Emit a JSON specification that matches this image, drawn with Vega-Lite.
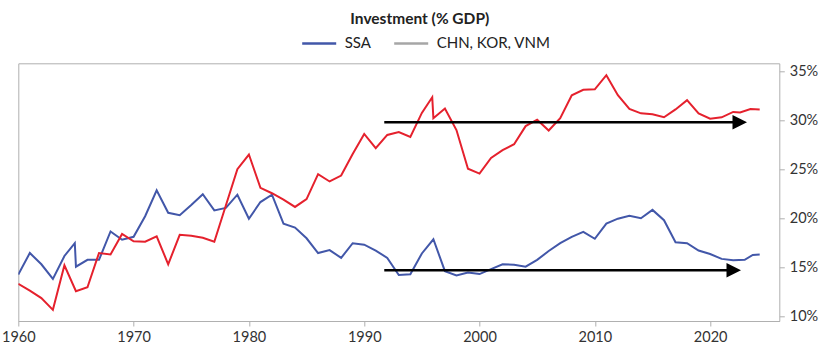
{
  "$schema": "https://vega.github.io/schema/vega-lite/v6.json",
  "autosize": "none",
  "width": 761,
  "height": 257.7,
  "padding": {"left": 18.3, "top": 63.3, "right": 60.7, "bottom": 37},
  "background": "white",
  "config": {
    "view": {"stroke": "#b0b0b0", "strokeWidth": 1},
    "font": "Lato",
    "axis": {"grid": false, "domainColor": "#b0b0b0", "tickColor": "#b0b0b0", "labelColor": "#333333", "labelFont": "Lato", "labelFontSize": 14.5, "tickSize": 5}
  },
  "title": {"text": "Investment (% GDP)", "font": "Lato", "fontSize": 15.5, "fontWeight": "bold", "color": "#222222", "anchor": "middle", "dx": 21, "offset": -3},
  "datasets": {
    "inv": [
      {"year": 1960, "value": 14.3, "series": "SSA"},
      {"year": 1961, "value": 16.5, "series": "SSA"},
      {"year": 1962, "value": 15.35, "series": "SSA"},
      {"year": 1963, "value": 13.85, "series": "SSA"},
      {"year": 1964, "value": 16.2, "series": "SSA"},
      {"year": 1964.9, "value": 17.5, "series": "SSA"},
      {"year": 1965, "value": 15.1, "series": "SSA"},
      {"year": 1966, "value": 15.8, "series": "SSA"},
      {"year": 1967, "value": 15.8, "series": "SSA"},
      {"year": 1968, "value": 18.7, "series": "SSA"},
      {"year": 1969, "value": 17.85, "series": "SSA"},
      {"year": 1970, "value": 18.15, "series": "SSA"},
      {"year": 1971, "value": 20.25, "series": "SSA"},
      {"year": 1972, "value": 22.9, "series": "SSA"},
      {"year": 1973, "value": 20.6, "series": "SSA"},
      {"year": 1974, "value": 20.35, "series": "SSA"},
      {"year": 1975, "value": 21.4, "series": "SSA"},
      {"year": 1976, "value": 22.5, "series": "SSA"},
      {"year": 1977, "value": 20.85, "series": "SSA"},
      {"year": 1978, "value": 21.1, "series": "SSA"},
      {"year": 1979, "value": 22.45, "series": "SSA"},
      {"year": 1980, "value": 20.0, "series": "SSA"},
      {"year": 1981, "value": 21.7, "series": "SSA"},
      {"year": 1982, "value": 22.45, "series": "SSA"},
      {"year": 1983, "value": 19.5, "series": "SSA"},
      {"year": 1984, "value": 19.1, "series": "SSA"},
      {"year": 1985, "value": 18.0, "series": "SSA"},
      {"year": 1986, "value": 16.5, "series": "SSA"},
      {"year": 1987, "value": 16.8, "series": "SSA"},
      {"year": 1988, "value": 16.0, "series": "SSA"},
      {"year": 1989, "value": 17.5, "series": "SSA"},
      {"year": 1990, "value": 17.35, "series": "SSA"},
      {"year": 1991, "value": 16.75, "series": "SSA"},
      {"year": 1992, "value": 16.0, "series": "SSA"},
      {"year": 1993, "value": 14.25, "series": "SSA"},
      {"year": 1994, "value": 14.33, "series": "SSA"},
      {"year": 1995, "value": 16.45, "series": "SSA"},
      {"year": 1996, "value": 17.9, "series": "SSA"},
      {"year": 1997, "value": 14.65, "series": "SSA"},
      {"year": 1998, "value": 14.2, "series": "SSA"},
      {"year": 1999, "value": 14.5, "series": "SSA"},
      {"year": 2000, "value": 14.35, "series": "SSA"},
      {"year": 2001, "value": 14.85, "series": "SSA"},
      {"year": 2002, "value": 15.35, "series": "SSA"},
      {"year": 2003, "value": 15.3, "series": "SSA"},
      {"year": 2004, "value": 15.1, "series": "SSA"},
      {"year": 2005, "value": 15.8, "series": "SSA"},
      {"year": 2006, "value": 16.7, "series": "SSA"},
      {"year": 2007, "value": 17.5, "series": "SSA"},
      {"year": 2008, "value": 18.15, "series": "SSA"},
      {"year": 2009, "value": 18.65, "series": "SSA"},
      {"year": 2010, "value": 17.95, "series": "SSA"},
      {"year": 2011, "value": 19.5, "series": "SSA"},
      {"year": 2012, "value": 20.0, "series": "SSA"},
      {"year": 2013, "value": 20.3, "series": "SSA"},
      {"year": 2014, "value": 20.05, "series": "SSA"},
      {"year": 2015, "value": 20.9, "series": "SSA"},
      {"year": 2016, "value": 19.85, "series": "SSA"},
      {"year": 2017, "value": 17.6, "series": "SSA"},
      {"year": 2018, "value": 17.5, "series": "SSA"},
      {"year": 2019, "value": 16.75, "series": "SSA"},
      {"year": 2020, "value": 16.4, "series": "SSA"},
      {"year": 2021, "value": 15.9, "series": "SSA"},
      {"year": 2022, "value": 15.75, "series": "SSA"},
      {"year": 2023, "value": 15.8, "series": "SSA"},
      {"year": 2023.7, "value": 16.3, "series": "SSA"},
      {"year": 2024.3, "value": 16.35, "series": "SSA"},
      {"year": 1960, "value": 13.35, "series": "CHN, KOR, VNM"},
      {"year": 1961, "value": 12.65, "series": "CHN, KOR, VNM"},
      {"year": 1962, "value": 11.9, "series": "CHN, KOR, VNM"},
      {"year": 1963, "value": 10.7, "series": "CHN, KOR, VNM"},
      {"year": 1964, "value": 15.25, "series": "CHN, KOR, VNM"},
      {"year": 1965, "value": 12.6, "series": "CHN, KOR, VNM"},
      {"year": 1966, "value": 13.0, "series": "CHN, KOR, VNM"},
      {"year": 1967, "value": 16.5, "series": "CHN, KOR, VNM"},
      {"year": 1968, "value": 16.35, "series": "CHN, KOR, VNM"},
      {"year": 1969, "value": 18.45, "series": "CHN, KOR, VNM"},
      {"year": 1970, "value": 17.7, "series": "CHN, KOR, VNM"},
      {"year": 1971, "value": 17.65, "series": "CHN, KOR, VNM"},
      {"year": 1972, "value": 18.2, "series": "CHN, KOR, VNM"},
      {"year": 1973, "value": 15.35, "series": "CHN, KOR, VNM"},
      {"year": 1974, "value": 18.35, "series": "CHN, KOR, VNM"},
      {"year": 1975, "value": 18.25, "series": "CHN, KOR, VNM"},
      {"year": 1976, "value": 18.05, "series": "CHN, KOR, VNM"},
      {"year": 1977, "value": 17.65, "series": "CHN, KOR, VNM"},
      {"year": 1978, "value": 21.35, "series": "CHN, KOR, VNM"},
      {"year": 1979, "value": 25.05, "series": "CHN, KOR, VNM"},
      {"year": 1980, "value": 26.55, "series": "CHN, KOR, VNM"},
      {"year": 1981, "value": 23.15, "series": "CHN, KOR, VNM"},
      {"year": 1982, "value": 22.6, "series": "CHN, KOR, VNM"},
      {"year": 1983, "value": 21.95, "series": "CHN, KOR, VNM"},
      {"year": 1984, "value": 21.2, "series": "CHN, KOR, VNM"},
      {"year": 1985, "value": 22.0, "series": "CHN, KOR, VNM"},
      {"year": 1986, "value": 24.55, "series": "CHN, KOR, VNM"},
      {"year": 1987, "value": 23.8, "series": "CHN, KOR, VNM"},
      {"year": 1988, "value": 24.4, "series": "CHN, KOR, VNM"},
      {"year": 1989, "value": 26.6, "series": "CHN, KOR, VNM"},
      {"year": 1990, "value": 28.65, "series": "CHN, KOR, VNM"},
      {"year": 1991, "value": 27.2, "series": "CHN, KOR, VNM"},
      {"year": 1992, "value": 28.55, "series": "CHN, KOR, VNM"},
      {"year": 1993, "value": 28.85, "series": "CHN, KOR, VNM"},
      {"year": 1994, "value": 28.35, "series": "CHN, KOR, VNM"},
      {"year": 1995, "value": 30.8, "series": "CHN, KOR, VNM"},
      {"year": 1995.9, "value": 32.4, "series": "CHN, KOR, VNM"},
      {"year": 1996, "value": 30.25, "series": "CHN, KOR, VNM"},
      {"year": 1997, "value": 31.25, "series": "CHN, KOR, VNM"},
      {"year": 1998, "value": 29.05, "series": "CHN, KOR, VNM"},
      {"year": 1999, "value": 25.1, "series": "CHN, KOR, VNM"},
      {"year": 2000, "value": 24.6, "series": "CHN, KOR, VNM"},
      {"year": 2001, "value": 26.2, "series": "CHN, KOR, VNM"},
      {"year": 2002, "value": 27.0, "series": "CHN, KOR, VNM"},
      {"year": 2003, "value": 27.6, "series": "CHN, KOR, VNM"},
      {"year": 2004, "value": 29.45, "series": "CHN, KOR, VNM"},
      {"year": 2005, "value": 30.1, "series": "CHN, KOR, VNM"},
      {"year": 2006, "value": 29.0, "series": "CHN, KOR, VNM"},
      {"year": 2007, "value": 30.25, "series": "CHN, KOR, VNM"},
      {"year": 2008, "value": 32.6, "series": "CHN, KOR, VNM"},
      {"year": 2009, "value": 33.15, "series": "CHN, KOR, VNM"},
      {"year": 2010, "value": 33.2, "series": "CHN, KOR, VNM"},
      {"year": 2011, "value": 34.65, "series": "CHN, KOR, VNM"},
      {"year": 2012, "value": 32.6, "series": "CHN, KOR, VNM"},
      {"year": 2013, "value": 31.2, "series": "CHN, KOR, VNM"},
      {"year": 2014, "value": 30.75, "series": "CHN, KOR, VNM"},
      {"year": 2015, "value": 30.65, "series": "CHN, KOR, VNM"},
      {"year": 2016, "value": 30.35, "series": "CHN, KOR, VNM"},
      {"year": 2017, "value": 31.15, "series": "CHN, KOR, VNM"},
      {"year": 2018, "value": 32.1, "series": "CHN, KOR, VNM"},
      {"year": 2019, "value": 30.75, "series": "CHN, KOR, VNM"},
      {"year": 2020, "value": 30.2, "series": "CHN, KOR, VNM"},
      {"year": 2021, "value": 30.35, "series": "CHN, KOR, VNM"},
      {"year": 2022, "value": 30.9, "series": "CHN, KOR, VNM"},
      {"year": 2022.6, "value": 30.85, "series": "CHN, KOR, VNM"},
      {"year": 2023.5, "value": 31.2, "series": "CHN, KOR, VNM"},
      {"year": 2024.3, "value": 31.15, "series": "CHN, KOR, VNM"}
    ],
    "arrows": [
      {"start": 1991.74, "head": 2022.57, "level": 29.84},
      {"start": 1991.74, "head": 2022.05, "level": 14.73}
    ]
  },
  "layer": [
    {
      "data": {"name": "inv"},
      "mark": {"type": "line", "strokeWidth": 0},
      "encoding": {
        "x": {
          "field": "year", "type": "quantitative",
          "scale": {"domain": [1960, 2026], "nice": false, "zero": false},
          "axis": {"title": null, "values": [1960, 1970, 1980, 1990, 2000, 2010, 2020], "format": "d", "labelPadding": 4, "labelFlush": false}
        },
        "y": {
          "field": "value", "type": "quantitative",
          "scale": {"domain": [9.56, 35.86], "nice": false, "zero": false},
          "axis": {"title": null, "orient": "right", "values": [10, 15, 20, 25, 30, 35], "labelExpr": "datum.value + '%'", "labelPadding": 5, "domain": false}
        },
        "color": {
          "field": "series", "type": "nominal",
          "scale": {"domain": ["SSA", "CHN, KOR, VNM"], "range": ["#4257A9", "#a6a6a6"]},
          "legend": {
            "orient": "none", "legendX": 282.4, "legendY": -38.6, "direction": "horizontal", "title": null,
            "symbolType": "stroke", "symbolSize": 1156, "symbolStrokeWidth": 2.5,
            "labelFont": "Lato", "labelFontSize": 15, "labelColor": "#222222", "labelOffset": 7, "columnPadding": 17
          }
        }
      }
    },
    {
      "data": {"name": "inv"},
      "mark": {"type": "line", "strokeWidth": 2, "clip": true},
      "encoding": {
        "x": {"field": "year", "type": "quantitative"},
        "y": {"field": "value", "type": "quantitative"},
        "stroke": {
          "field": "series", "type": "nominal",
          "scale": {"domain": ["SSA", "CHN, KOR, VNM"], "range": ["#4257A9", "#E5212D"]},
          "legend": null
        }
      }
    },
    {
      "data": {"name": "arrows"},
      "mark": {"type": "rule", "color": "#000000", "strokeWidth": 2.5},
      "encoding": {
        "x": {"field": "start", "type": "quantitative"},
        "x2": {"field": "head"},
        "y": {"field": "level", "type": "quantitative"}
      }
    },
    {
      "data": {"name": "arrows"},
      "mark": {"type": "point", "shape": "M-1,-1L1,0L-1,1Z", "filled": true, "color": "#000000", "opacity": 1, "size": 210, "strokeWidth": 0},
      "encoding": {
        "x": {"field": "head", "type": "quantitative"},
        "y": {"field": "level", "type": "quantitative"}
      }
    }
  ]
}
